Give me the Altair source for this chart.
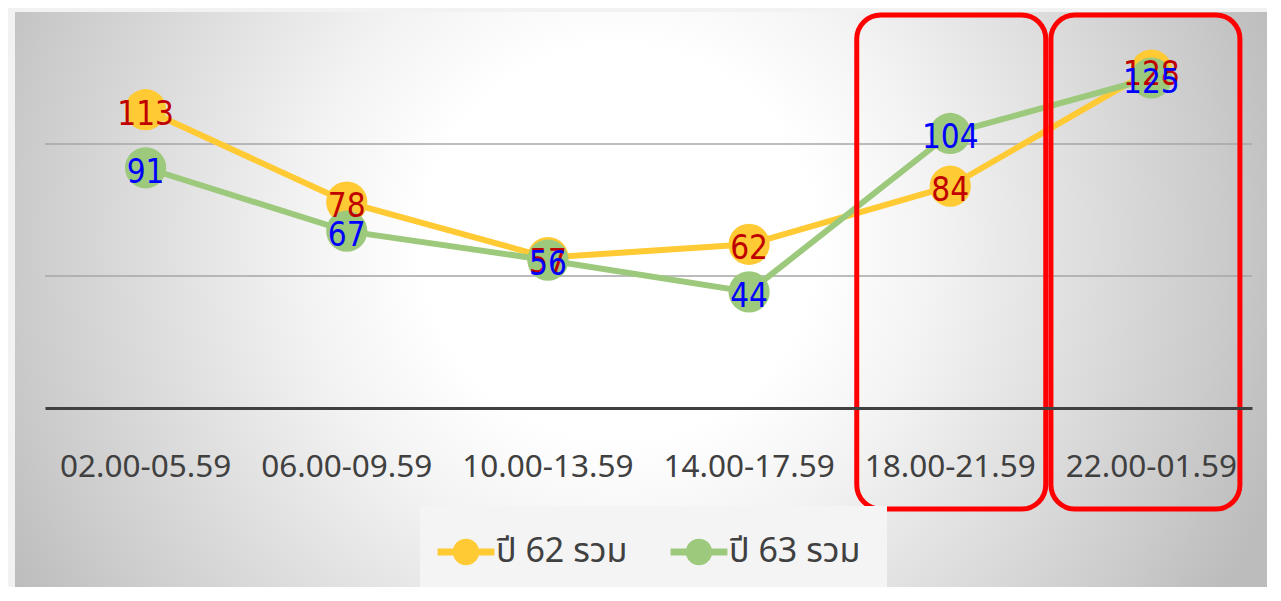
import altair as alt
import pandas as pd

categories = ["02.00-05.59", "06.00-09.59", "10.00-13.59", "14.00-17.59", "18.00-21.59", "22.00-01.59"]
series_names = ["ปี 62 รวม", "ปี 63 รวม"]
values_62 = [113, 78, 57, 62, 84, 128]
values_63 = [91, 67, 56, 44, 104, 125]
grid_values = [50, 100]
line_colors = ["#FFCA33", "#9DC97C"]
label_colors = ["#C00000", "#0000FF"]
highlighted = ["18.00-21.59", "22.00-01.59"]

rows = []
for s, vals in zip(series_names, [values_62, values_63]):
    for c, v in zip(categories, vals):
        rows.append({"period": c, "series": s, "value": v})
df = pd.DataFrame(rows)
boxes = pd.DataFrame({"period": highlighted})
grid_df = pd.DataFrame({"value": grid_values})
one = pd.DataFrame({"k": [0]})

W, H = 1207, 396
PAD = {"left": 37, "top": 4, "right": 15, "bottom": 179}

xscale = alt.Scale(type="band", domain=categories, paddingInner=0, paddingOuter=0)
yscale = alt.Scale(domain=[0, 150])

x_axis = alt.Axis(title=None, ticks=False, grid=False, domain=True, domainColor="#404040",
                  domainWidth=3, labelFontSize=31.5, labelColor="#404040", labelFont="Noto Sans",
                  labelAngle=0, labelPadding=59, labelBaseline="middle", zindex=1)

X = alt.X("period:N", scale=xscale, axis=x_axis, bandPosition=0.5)
Y = alt.Y("value:Q", scale=yscale, axis=None)

# legend glyph: a short line with a dot, drawn wider than its layout box
sym_path = ("M-1.42,-0.175 L1.42,-0.175 L1.42,0.175 L-1.42,0.175 Z "
            "M0.66,0 A0.66,0.66 0 1,1 -0.66,0 A0.66,0.66 0 1,1 0.66,0 Z")

legend = alt.Legend(title=None, orient="none", legendX=375, legendY=494, direction="horizontal",
                    symbolType=sym_path, symbolSize=1600, symbolStrokeWidth=0, symbolOpacity=1,
                    labelFontSize=34, labelColor="#404040",
                    labelFont="Noto Sans, Noto Sans Thai, Loma, Garuda, Tlwg Typo, sans-serif",
                    labelOffset=10, columnPadding=42, fillColor="#f4f4f4", padding=26,
                    labelLimit=300, zindex=1)

color_enc = alt.Color("series:N", scale=alt.Scale(domain=series_names, range=line_colors), legend=legend)

grad = {
    "gradient": "radial",
    "x1": 0.48, "y1": 0.47, "x2": 0.48, "y2": 0.47, "r1": 0, "r2": 0.556,
    "stops": [
        {"offset": 0, "color": "#ffffff"},
        {"offset": 0.28, "color": "#ffffff"},
        {"offset": 0.45, "color": "#f3f3f3"},
        {"offset": 0.86, "color": "#cbcbcb"},
        {"offset": 0.94, "color": "#c2c2c2"},
        {"offset": 1, "color": "#bcbcbc"},
    ],
}

bg = alt.Chart(one).mark_rect(fill=grad, strokeWidth=0).encode(
    x=alt.value(-30), x2=alt.value(1228), y=alt.value(-361), y2=alt.value(897))
top_strip = alt.Chart(one).mark_rect(fill="#f2f2f2").encode(
    x=alt.value(-37), x2=alt.value(1230), y=alt.value(-4), y2=alt.value(0))
left_strip = alt.Chart(one).mark_rect(fill="#f2f2f2").encode(
    x=alt.value(-37), x2=alt.value(-30), y=alt.value(-4), y2=alt.value(590))
grid = alt.Chart(grid_df).mark_rule(color="#a6a6a6", strokeWidth=1.5).encode(
    y=alt.Y("value:Q", scale=yscale, axis=None), x=alt.value(0), x2=alt.value(W))

layers = [bg, top_strip, left_strip, grid]
for s, lc in zip(series_names, line_colors):
    base = alt.Chart(df).transform_filter(alt.datum.series == s)
    layers.append(base.mark_line(strokeWidth=6, strokeCap="round", color=lc).encode(x=X, y=Y))
    layers.append(base.mark_circle(size=1700, opacity=1).encode(x=X, y=Y, color=color_enc))
for s, tc in zip(series_names, label_colors):
    base = alt.Chart(df).transform_filter(alt.datum.series == s)
    layers.append(base.mark_text(fontSize=33, font="DejaVu Sans Condensed, DejaVu Sans", baseline="middle",
                                 align="center", dy=5, color=tc).encode(x=X, y=Y, text="value:Q"))

box_offsets = [1, -6]
for p, off in zip(highlighted, box_offsets):
    layers.append(alt.Chart(boxes).transform_filter(alt.datum.period == p).mark_rect(
        width=189, xOffset=off, fillOpacity=0, stroke="#FF0000", strokeWidth=5, cornerRadius=24
    ).encode(x=alt.X("period:N", scale=xscale, axis=x_axis), y=alt.value(3), y2=alt.value(497)))

chart = alt.layer(*layers).properties(
    width=W, height=H, padding=PAD, autosize=alt.AutoSizeParams(type="none"),
    background="#f2f2f2"
).configure_view(stroke=None)

chart.save("out.html", embed_options={"renderer": "svg", "actions": False})
